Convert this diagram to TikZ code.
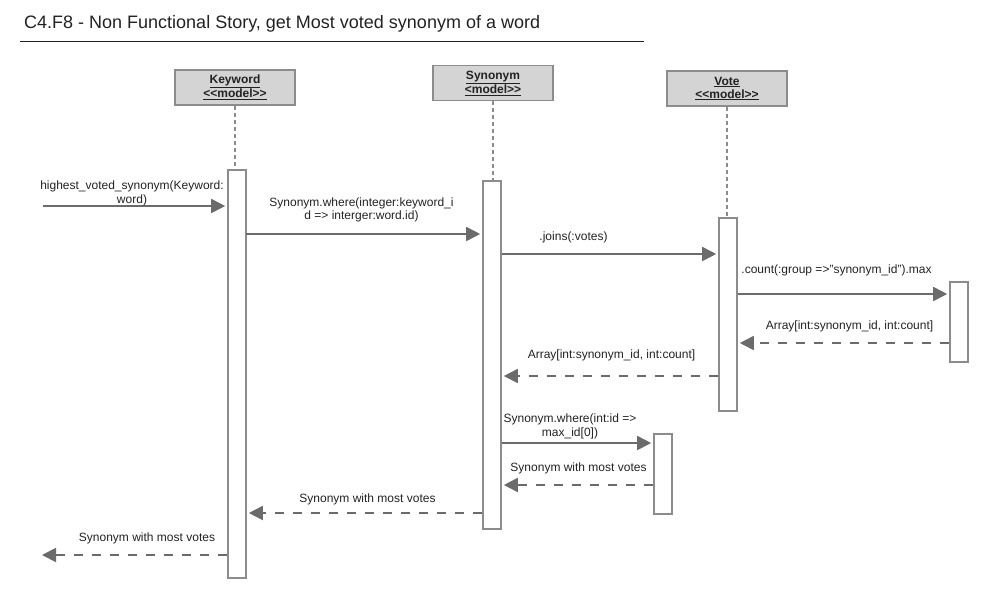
\documentclass[tikz,border=0pt]{standalone}
\usepackage{fontspec}
\setmainfont{Liberation Sans}
\usetikzlibrary{arrows.meta}
\definecolor{boxline}{HTML}{8C8C8C}
\definecolor{boxfill}{HTML}{D4D4D4}
\definecolor{msgline}{HTML}{6B6B6B}
\definecolor{txt}{HTML}{222222}
\begin{document}
\begin{tikzpicture}[x=1pt,y=-1pt,
  header/.style={draw=boxline, fill=boxfill, line width=1.6pt, minimum width=120pt, minimum height=35pt, inner sep=0pt, font=\fontsize{12}{13}\selectfont\bfseries, align=center, text=txt},
  act/.style={draw=boxline, fill=white, line width=1.6pt, minimum width=18pt, inner sep=0pt},
  life/.style={draw=boxline, line width=1.4pt, dash pattern=on 4pt off 3pt},
  msg/.style={draw=msgline, line width=1.8pt, -{Triangle[length=14pt,width=14pt]}, shorten >=2pt},
  ret/.style={msg, dash pattern=on 9pt off 9pt},
  lbl/.style={font=\fontsize{12}{13.5}\selectfont, align=center, inner sep=0pt, text=txt}]
\useasboundingbox (0,0) rectangle (988,600);
% title
\node[anchor=west, inner sep=0pt, font=\fontsize{18}{20}\selectfont, text=txt] (title) at (24,24) {C4.F8 - Non Functional Story, get Most voted synonym of a word};
\coordinate (tl) at (20,41);
\coordinate (tr) at (644,41);
\draw[line width=0.8pt, draw=txt] (tl) -- (tr);
% headers
\node[header] (kw) at (235,87.5) {\underline{Keyword}\\\underline{<{}<model>{}>}};
\node[header] (syn) at (493,83) {\underline{Synonym}\\\underline{<model>{}>}};
\node[header] (vote) at (727,88.5) {\underline{Vote}\\\underline{<{}<model>{}>}};
% activations
\node[act, minimum height=408pt] (ka) at (237,374) {};
\node[act, minimum height=348pt] (sa) at (492,355) {};
\node[act, minimum height=193pt] (va) at (728,314.5) {};
\node[act, minimum height=80pt] (ca) at (959,322) {};
\node[act, minimum height=80pt] (sb) at (663,474) {};
% lifelines
\draw[life] (kw.south) -- (kw.south |- ka.north);
\draw[life] (syn.south) -- (syn.south |- sa.north);
\draw[life] (vote.south) -- (vote.south |- va.north);
% message levels
\coordinate (start) at (43,206);
\coordinate (finish) at (40,555);
\coordinate (y2) at (0,234);
\coordinate (y3) at (0,254);
\coordinate (y4) at (0,294);
\coordinate (y5) at (0,343);
\coordinate (y6) at (0,376);
\coordinate (y7) at (0,443);
\coordinate (y8) at (0,485);
\coordinate (y9) at (0,513);
% messages
\draw[msg] (start) -- (ka.west |- start);
\draw[msg, shorten <=-1pt] (ka.east |- y2) -- (sa.west |- y2);
\draw[msg] (sa.east |- y3) -- (va.west |- y3);
\draw[msg] (va.east |- y4) -- (ca.west |- y4);
\draw[ret] (ca.west |- y5) -- (va.east |- y5);
\draw[ret] (va.west |- y6) -- (sa.east |- y6);
\draw[msg] (sa.east |- y7) -- (sb.west |- y7);
\draw[ret] (sb.west |- y8) -- (sa.east |- y8);
\draw[ret] (sa.west |- y9) -- (ka.east |- y9);
\draw[ret] (ka.west |- finish) -- (finish);
% labels
\node[lbl] (l1) at (132,193.5) {highest\_voted\_synonym(Keyword:\\word)};
\node[lbl] (l2) at (361.5,210) {Synonym.where(integer:keyword\_i\\d => interger:word.id)};
\node[lbl] (l3) at (573.5,237) {.joins(:votes)};
\node[lbl] (l4) at (836.5,270) {.count(:group =>"synonym\_id").max};
\node[lbl] (l5) at (849.5,326) {Array[int:synonym\_id, int:count]};
\node[lbl] (l6) at (611.5,355) {Array[int:synonym\_id, int:count]};
\node[lbl] (l7) at (570,426.5) {Synonym.where(int:id =>\\max\_id[0])};
\node[lbl] (l8) at (578.5,468) {Synonym with most votes};
\node[lbl] (l9) at (367.5,499) {Synonym with most votes};
\node[lbl] (l10) at (147,538) {Synonym with most votes};
\end{tikzpicture}
\end{document}
